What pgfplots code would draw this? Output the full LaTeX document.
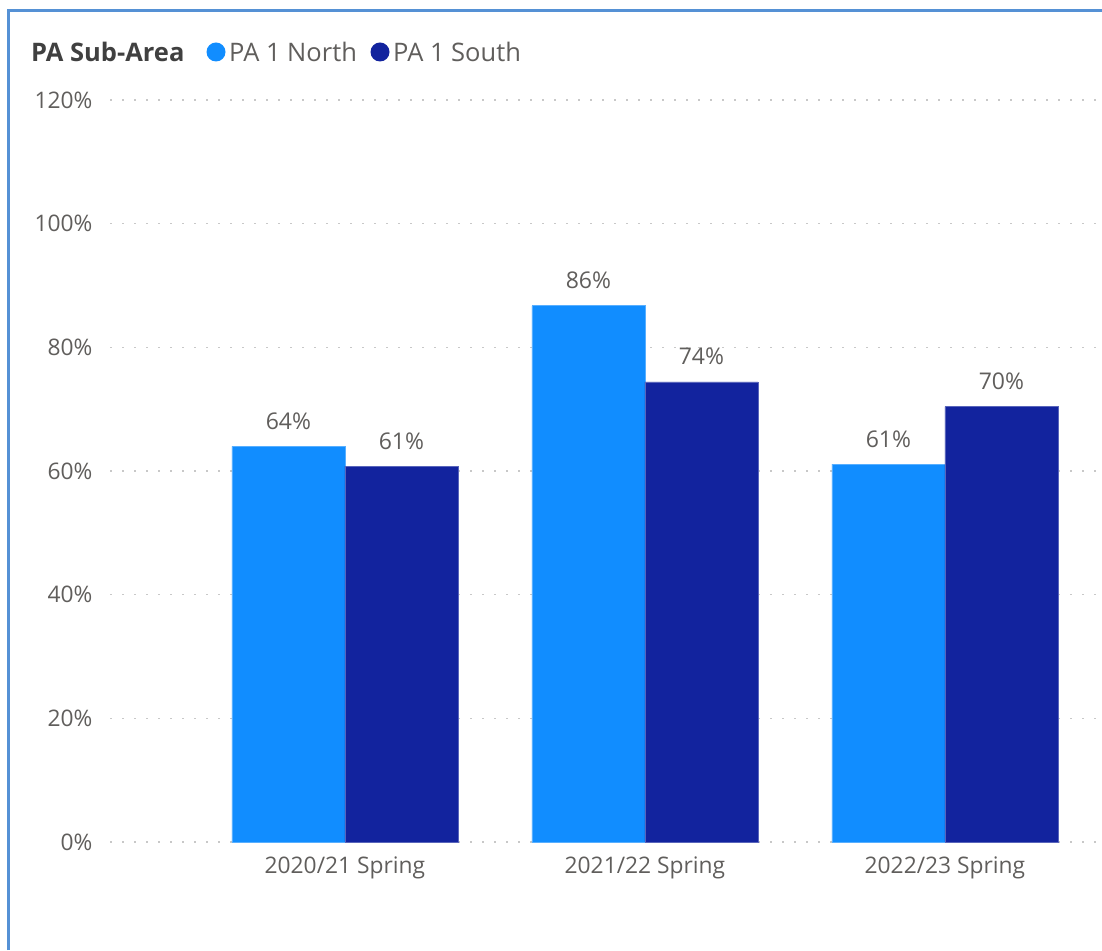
\documentclass[border=0pt]{standalone}
\usepackage{fontspec}
\setmainfont{Open Sans}
\usepackage{pgfplots}
\usepackage{pgfplotstable}
\pgfplotsset{compat=1.18}
\definecolor{north}{HTML}{118DFF}
\definecolor{south}{HTML}{12239E}
\definecolor{txt}{HTML}{605E5C}
\definecolor{ttl}{HTML}{404040}
\definecolor{frame}{RGB}{85,145,213}
\definecolor{gridc}{HTML}{C8C8C8}
\pgfplotstableread{
x y lab
0 64.0 64
1 86.7 86
2 61.1 61
}\north
\pgfplotstableread{
x y lab
0 60.8 61
1 74.4 74
2 70.4 70
}\south
\begin{document}
\begin{tikzpicture}[x=1pt,y=1pt]
\path[use as bounding box] (0,0) rectangle (1102,950);
\draw[frame,line width=3pt] (8.5,0) -- (8.5,939.5) -- (1102,939.5);
\begin{axis}[
  at={(110pt,108pt)}, anchor=south west,
  scale only axis, width=990pt, height=742pt,
  xmin=-0.783, xmax=2.517, ymin=0, ymax=120,
  ybar=0pt, bar width=113pt,
  axis line style={draw=none},
  major tick length=0pt,
  ytick={0,20,...,120},
  yticklabels={0\%,20\%,40\%,60\%,80\%,100\%,120\%},
  xtick={0,1,2},
  xticklabels={2020/21 Spring,2021/22 Spring,2022/23 Spring},
  ymajorgrids,
  grid style={gridc,line width=1.6pt,dash pattern=on 1.6pt off 10.4pt},
  tick label style={font=\fontsize{22.8}{26}\selectfont,text=txt},
  yticklabel style={anchor=east,xshift=-14pt},
  xticklabel style={anchor=north,yshift=-11pt},
  nodes near coords={\pgfplotspointmeta\%},
  point meta=explicit symbolic,
  every node near coord/.append style={font=\fontsize{23}{26}\selectfont,text=txt,anchor=south,yshift=13pt},
  clip=false,
]
\addplot[fill=north,draw=north!70!white,line width=0.8pt] table[x=x,y=y,meta=lab]{\north};
\addplot[fill=south,draw=south!70!white,line width=0.8pt] table[x=x,y=y,meta=lab]{\south};
\end{axis}
\node[anchor=west,text=ttl,font=\bfseries\fontsize{25.5}{30}\selectfont,inner sep=0pt] at (31,898) {PA Sub-Area};
\fill[north] (216,898) circle (9.5);
\node[anchor=west,text=txt,font=\fontsize{25.5}{30}\selectfont,inner sep=0pt] at (229,898) {PA 1 North};
\fill[south] (380,898) circle (9.5);
\node[anchor=west,text=txt,font=\fontsize{25.5}{30}\selectfont,inner sep=0pt] at (393,898) {PA 1 South};
\end{tikzpicture}
\end{document}
